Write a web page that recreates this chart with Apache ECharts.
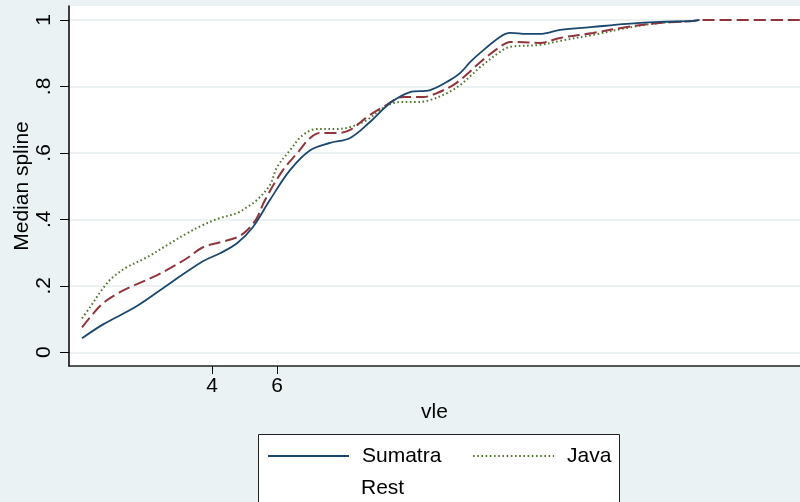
<!DOCTYPE html>
<html>
<head>
<meta charset="utf-8">
<script src="https://cdn.jsdelivr.net/npm/echarts@6/dist/echarts.min.js"></script>
<style>html,body{margin:0;padding:0;background:#eaf2f3;}#c{width:800px;height:502px;}</style>
</head>
<body>
<div id="c"></div>
<script>
// ---- data ----
const sumatraX = [0, 0.65, 1.69, 2.71, 3.72, 4.25, 4.77, 5.26, 5.78, 6.4, 7.02, 7.63, 8.25, 8.86, 9.48, 10.09, 10.71, 11.32, 11.63, 11.94, 12.25, 12.86, 13.17, 13.69, 14.09, 14.71, 15.72, 16.77, 17.78, 18.8, 19.0];
const sumatraY = [0.042, 0.084, 0.139, 0.208, 0.274, 0.298, 0.328, 0.377, 0.458, 0.548, 0.608, 0.630, 0.645, 0.693, 0.750, 0.783, 0.789, 0.819, 0.840, 0.873, 0.901, 0.949, 0.961, 0.958, 0.958, 0.970, 0.979, 0.988, 0.994, 0.997, 1.0];

const javaX = [0, 0.25, 0.65, 0.95, 1.38, 2.0, 2.71, 3.23, 3.72, 4.25, 4.77, 5.08, 5.38, 5.78, 6.0, 6.4, 6.8, 7.23, 7.85, 8.25, 8.77, 9.26, 9.78, 10.31, 10.71, 11.23, 11.63, 11.94, 12.25, 12.86, 13.17, 14.09, 14.71, 15.72, 16.77, 17.78, 18.8, 19.0];
const javaY = [0.102, 0.136, 0.193, 0.226, 0.256, 0.286, 0.328, 0.358, 0.383, 0.404, 0.419, 0.437, 0.458, 0.503, 0.557, 0.608, 0.654, 0.672, 0.672, 0.678, 0.699, 0.735, 0.753, 0.753, 0.759, 0.780, 0.804, 0.830, 0.858, 0.904, 0.919, 0.925, 0.937, 0.955, 0.976, 0.991, 0.997, 1.0];

const restX = [0, 0.25, 0.65, 1.17, 1.69, 2.18, 2.71, 3.23, 3.72, 4.25, 4.77, 5.08, 5.38, 5.63, 6.18, 6.62, 7.02, 7.32, 7.85, 8.25, 8.77, 9.26, 9.88, 10.49, 10.92, 11.42, 11.63, 11.94, 12.25, 12.86, 13.17, 14.09, 14.71, 15.72, 16.77, 17.78, 18.8, 19.0, 22.5];
const restY = [0.075, 0.105, 0.148, 0.181, 0.205, 0.226, 0.253, 0.283, 0.316, 0.331, 0.346, 0.367, 0.404, 0.458, 0.548, 0.599, 0.645, 0.660, 0.660, 0.669, 0.708, 0.738, 0.768, 0.768, 0.780, 0.804, 0.819, 0.845, 0.873, 0.919, 0.934, 0.931, 0.946, 0.961, 0.979, 0.991, 0.997, 1.0, 1.0];

const yTicks = [0, 0.2, 0.4, 0.6, 0.8, 1];
const yTickLabels = ['0', '.2', '.4', '.6', '.8', '1'];
const xTicks = [4, 6];
const seriesNames = ['Sumatra', 'Java', 'Rest'];
// ---------------------------------------

const zip = (xs, ys) => xs.map((x, i) => [x, ys[i]]);
const FONT = '"Liberation Sans", Arial, sans-serif';
const chart = echarts.init(document.getElementById('c'), null, {renderer: 'canvas'});

const legendBase = {
  orient: 'horizontal', padding: 0, itemWidth: 81, itemHeight: 14,
  itemStyle: {opacity: 0},
  textStyle: {fontFamily: FONT, fontSize: 21, color: '#000', lineHeight: 24, padding: [0, 0, 0, 8]},
  selectedMode: false
};

chart.setOption({
  backgroundColor: '#eaf2f3',
  animation: false,
  graphic: [{
    type: 'rect', z: -1, silent: true,
    shape: {x: 258.5, y: 434.5, width: 361, height: 100},
    style: {fill: '#ffffff', stroke: '#222', lineWidth: 1}
  }],
  grid: {left: 69, right: 0, top: 6, bottom: 136, show: true, backgroundColor: '#ffffff', borderWidth: 0,
         containLabel: false, outerBoundsMode: 'none'},
  xAxis: {
    type: 'value', min: -0.4, max: 22.09,
    name: 'vle', nameLocation: 'middle', nameGap: 36, nameMoveOverlap: false,
    nameTextStyle: {fontFamily: FONT, fontSize: 21, color: '#000'},
    axisLine: {show: true, onZero: false, lineStyle: {color: '#222', width: 1.5}},
    axisTick: {show: true, length: 8, customValues: xTicks, lineStyle: {color: '#000', width: 1}},
    axisLabel: {customValues: xTicks, fontFamily: FONT, fontSize: 21, color: '#000', margin: 10},
    splitLine: {show: false}
  },
  yAxis: {
    type: 'value', min: -0.0413, max: 1.042,
    name: 'Median spline', nameLocation: 'middle', nameGap: 36, nameRotate: 90, nameMoveOverlap: false,
    nameTextStyle: {fontFamily: FONT, fontSize: 21, color: '#000'},
    axisLine: {show: true, onZero: false, lineStyle: {color: '#000', width: 1.5}},
    axisTick: {show: true, length: 9, customValues: yTicks, lineStyle: {color: '#000', width: 1}},
    axisLabel: {
      customValues: yTicks, rotate: 90, fontFamily: FONT, fontSize: 21, color: '#000', margin: 14,
      formatter: v => { const i = yTicks.findIndex(t => Math.abs(t - v) < 1e-6); return i >= 0 ? yTickLabels[i] : ''; }
    },
    splitLine: {show: true, lineStyle: {color: '#e6eef1', width: 1.5}}
  },
  legend: [
    Object.assign({}, legendBase, {data: [seriesNames[0]], left: 267, top: 444}),
    Object.assign({}, legendBase, {data: [seriesNames[1]], left: 472, top: 444}),
    Object.assign({}, legendBase, {data: [seriesNames[2]], left: 267, top: 476, icon: 'none'})
  ],
  series: [
    {name: seriesNames[0], type: 'line', data: zip(sumatraX, sumatraY), symbol: 'none', smooth: 0.35,
     lineStyle: {color: '#1a476f', width: 1.8, type: 'solid'}, itemStyle: {color: '#1a476f'}, z: 3},
    {name: seriesNames[1], type: 'line', data: zip(javaX, javaY), symbol: 'none', smooth: 0.35,
     lineStyle: {color: '#55752f', width: 2, type: [1.6, 2.6], cap: 'butt'}, itemStyle: {color: '#55752f'}, z: 2},
    {name: seriesNames[2], type: 'line', data: zip(restX, restY), symbol: 'none', smooth: 0.35,
     lineStyle: {color: '#90353b', width: 2, type: [12, 5], cap: 'butt'}, itemStyle: {color: '#90353b'}, z: 2}
  ]
});
</script>
</body>
</html>
